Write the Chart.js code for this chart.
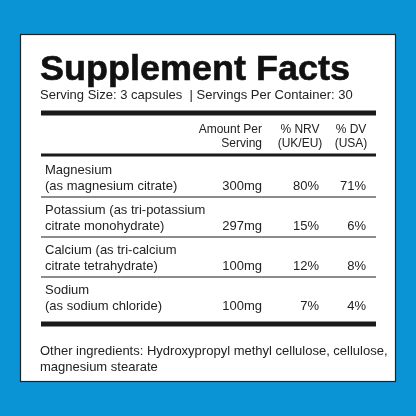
<!DOCTYPE html><html><head><meta charset="utf-8">
<script src="https://cdn.jsdelivr.net/npm/chart.js@4"></script>
<style>html,body{margin:0;padding:0;background:#0a94d6}#w{width:416px;height:416px}</style></head><body><div id="w"><canvas id="c" width="416" height="416"></canvas></div>
<script>
const title = "Supplement Facts";
const serving = "Serving Size: 3 capsules  | Servings Per Container: 30";
const headers = [["Amount Per","Serving"],["% NRV","(UK/EU)"],["% DV","(USA)"]];
const nutrientLine1 = ["Magnesium","Potassium (as tri-potassium","Calcium (as tri-calcium","Sodium"];
const nutrientLine2 = ["(as magnesium citrate)","citrate monohydrate)","citrate tetrahydrate)","(as sodium chloride)"];
const amounts = ["300mg","297mg","100mg","100mg"];
const nrv = ["80%","15%","12%","7%"];
const dv = ["71%","6%","8%","4%"];
const other = ["Other ingredients: Hydroxypropyl methyl cellulose, cellulose,","magnesium stearate"];

const tablePlugin = {id:'table', afterDraw(chart){
  const x = chart.ctx;
  x.save();
  x.fillStyle='#0a94d6'; x.fillRect(0,0,416,416);
  x.fillStyle='#fff'; x.fillRect(20,34,376,348);
  x.strokeStyle='#222'; x.lineWidth=1.2; x.strokeRect(20.5,34.5,375,347);
  x.fillStyle='#111';
  x.font='900 35px "Liberation Sans", Arial';
  x.textBaseline='alphabetic'; x.textAlign='left';
  const tw = x.measureText(title).width;
  x.save(); x.translate(40,80); x.scale(310/tw,1); x.fillText(title,0,0); x.restore();
  x.lineWidth=0.6; x.strokeStyle='#111';
  x.save(); x.translate(40,80); x.scale(310/tw,1); x.strokeText(title,0,0); x.restore();
  x.font='13px "Liberation Sans", Arial';
  x.fillStyle='#222';
  x.fillText(serving,40,99);
  const L=41,R=376;
  function line(y,h){x.fillRect(L,y-h/2,R-L,h);}
  x.fillStyle='#1a1a1a';
  line(113,5); line(155,3); line(324,5);
  [197,237,277].forEach(y=>line(y,1));
  x.fillStyle='#222';
  x.font='12px "Liberation Sans", Arial';
  x.textAlign='right';
  x.fillText(headers[0][0],262,133); x.fillText(headers[0][1],262,147);
  x.textAlign='center';
  x.fillText(headers[1][0],300,133); x.fillText(headers[1][1],300,147);
  x.fillText(headers[2][0],351,133); x.fillText(headers[2][1],351,147);
  x.font='13px "Liberation Sans", Arial';
  const ys=[174,214,254,294];
  for(let i=0;i<4;i++){
    x.textAlign='left';
    x.fillText(nutrientLine1[i],45,ys[i]);
    x.fillText(nutrientLine2[i],45,ys[i]+16);
    x.textAlign='right';
    x.fillText(amounts[i],262,ys[i]+16);
    x.fillText(nrv[i],319,ys[i]+16);
    x.fillText(dv[i],366,ys[i]+16);
  }
  x.textAlign='left';
  x.fillText(other[0],40,355); x.fillText(other[1],40,371);
  x.restore();
}};
new Chart(document.getElementById('c'),{type:'bar',data:{labels:nutrientLine1,datasets:[{data:[],backgroundColor:'transparent'}]},
options:{responsive:false,animation:false,events:[],plugins:{legend:{display:false},tooltip:{enabled:false}},scales:{x:{display:false},y:{display:false}}},
plugins:[tablePlugin]});
</script></body></html>
